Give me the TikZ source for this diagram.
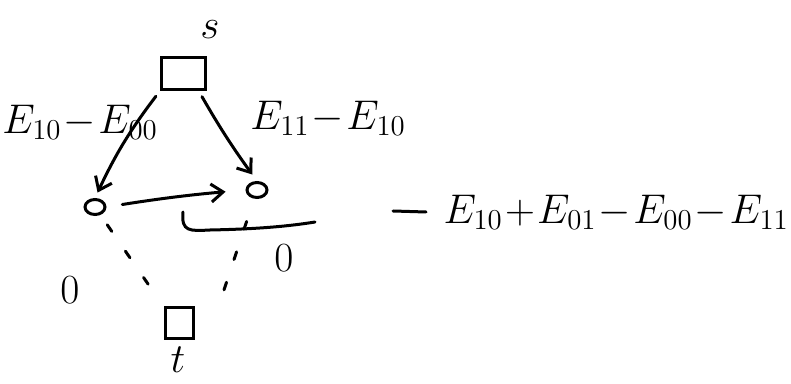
\documentclass[tikz,border=0pt]{standalone}
\usetikzlibrary{arrows.meta,shapes.geometric}
\begin{document}
\begin{tikzpicture}[x=0.5pt,y=-0.5pt, line width=1.5pt, line cap=round,
  sq/.style={draw, minimum width=22pt, minimum height=16pt, inner sep=0pt},
  sqt/.style={draw, minimum width=14pt, minimum height=15pt, inner sep=0pt},
  vtx/.style={draw, ellipse, minimum width=10pt, minimum height=7.5pt, inner sep=0pt},
  lbl/.style={font=\fontsize{20}{24}\selectfont, inner sep=0pt},
  arr/.style={-{Straight Barb[length=6pt,width=9pt]}},
  dsh/.style={dash pattern=on 4pt off 12pt}]
\useasboundingbox (0,0) rectangle (791,384);
\medmuskip=1mu
% nodes
\node[sq] (s) at (183,74) {};
\node[sqt] (t) at (179,323) {};
\node[vtx] (a) at (95,207) {};
\node[vtx] (b) at (257,190) {};
% labels
\node[lbl] (ls) at (210,30) {$s$};
\node[lbl] (lt) at (178,360) {$t$};
\node[lbl] (l1) at (80,122) {$E_{10}-E_{00}$};
\node[lbl] (l2) at (328,118) {$E_{11}-E_{10}$};
\node[lbl] (z1) at (70,290) {$0$};
\node[lbl] (z2) at (284,258) {$0$};
\node[lbl, anchor=west] (res) at (442,212) {$E_{10}+E_{01}-E_{00}-E_{11}$};
% arrows
\draw[arr, shorten <=3pt, shorten >=3pt] (s.south west) to[bend right=6] (a.north);
\draw[arr, shorten >=4pt, shorten <=3pt] ([xshift=8pt]s.south) to[bend right=3] (b.north);
\draw[arr, shorten <=8pt, shorten >=10pt] (a.east) to[bend left=2] (b.west);
% dashed
\draw[dsh, shorten <=6pt, shorten >=8pt] (a) -- (t.north west);
\draw[dsh, shorten <=12pt, shorten >=8pt] (b) -- ([xshift=12pt]t.north east);
% hook
\coordinate (h1) at (183,212);
\coordinate (h2) at (315,222);
\draw (h1) .. controls (181,232) and (190,231) .. (210,230) .. controls (260,229) and (290,226) .. (h2);
\coordinate (d1) at (393,211);
\draw (d1) -- ([xshift=-8pt]res.west);
\end{tikzpicture}
\end{document}
